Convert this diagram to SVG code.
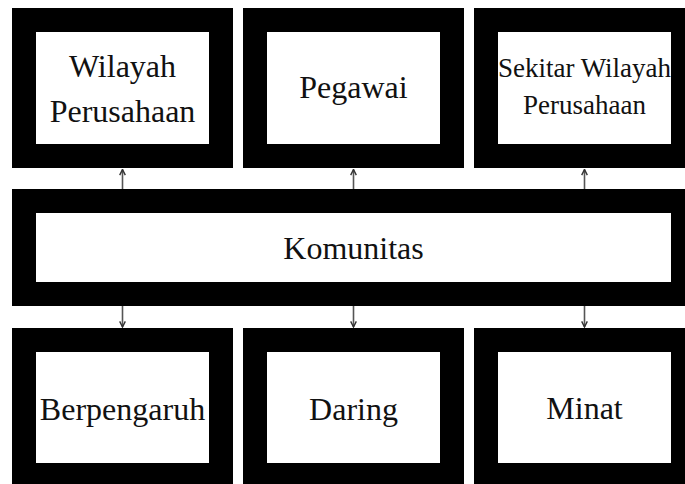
<svg xmlns="http://www.w3.org/2000/svg" width="685" height="484" viewBox="0 0 685 484">
<defs>
<style>
.box{fill:#fff;stroke:#000;stroke-width:24}
.t{font-family:"Liberation Serif","Times New Roman",serif;font-size:32px;fill:#111;text-anchor:middle}
.ts{font-size:27px}
.c{stroke:#555;stroke-width:1.6;fill:none}
</style>
<marker id="ah" viewBox="0 0 10 10" refX="9" refY="5" markerWidth="7" markerHeight="7" markerUnits="userSpaceOnUse" orient="auto">
<path d="M1,1 L9,5 L1,9" fill="none" stroke="#333" stroke-width="2"/>
</marker>
</defs>
<rect width="685" height="484" fill="#fff"/>
<g id="connectors">
<line class="c" x1="122.5" y1="189" x2="122.5" y2="169.5" marker-end="url(#ah)"/>
<line class="c" x1="353.5" y1="189" x2="353.5" y2="169.5" marker-end="url(#ah)"/>
<line class="c" x1="584.5" y1="189" x2="584.5" y2="169.5" marker-end="url(#ah)"/>
<line class="c" x1="122.5" y1="306" x2="122.5" y2="327" marker-end="url(#ah)"/>
<line class="c" x1="353.5" y1="306" x2="353.5" y2="327" marker-end="url(#ah)"/>
<line class="c" x1="584.5" y1="306" x2="584.5" y2="327" marker-end="url(#ah)"/>
</g>
<g id="wilayah">
<rect class="box" x="24" y="20" width="197" height="136"/>
<text class="t" x="122.5" y="77">Wilayah</text>
<text class="t" x="122.5" y="122">Perusahaan</text>
</g>
<g id="pegawai">
<rect class="box" x="255" y="20" width="197" height="136"/>
<text class="t" x="353.5" y="98">Pegawai</text>
</g>
<g id="sekitar">
<rect class="box" x="486" y="20" width="197" height="136"/>
<text class="t ts" x="584.5" y="77">Sekitar Wilayah</text>
<text class="t ts" x="584.5" y="114">Perusahaan</text>
</g>
<g id="komunitas">
<rect class="box" x="24" y="201" width="659" height="93"/>
<text class="t" x="353.5" y="259">Komunitas</text>
</g>
<g id="berpengaruh">
<rect class="box" x="24" y="340" width="197" height="135"/>
<text class="t" x="122.5" y="420">Berpengaruh</text>
</g>
<g id="daring">
<rect class="box" x="255" y="340" width="197" height="135"/>
<text class="t" x="353.5" y="420">Daring</text>
</g>
<g id="minat">
<rect class="box" x="486" y="340" width="197" height="135"/>
<text class="t" x="584.5" y="419">Minat</text>
</g>
</svg>
